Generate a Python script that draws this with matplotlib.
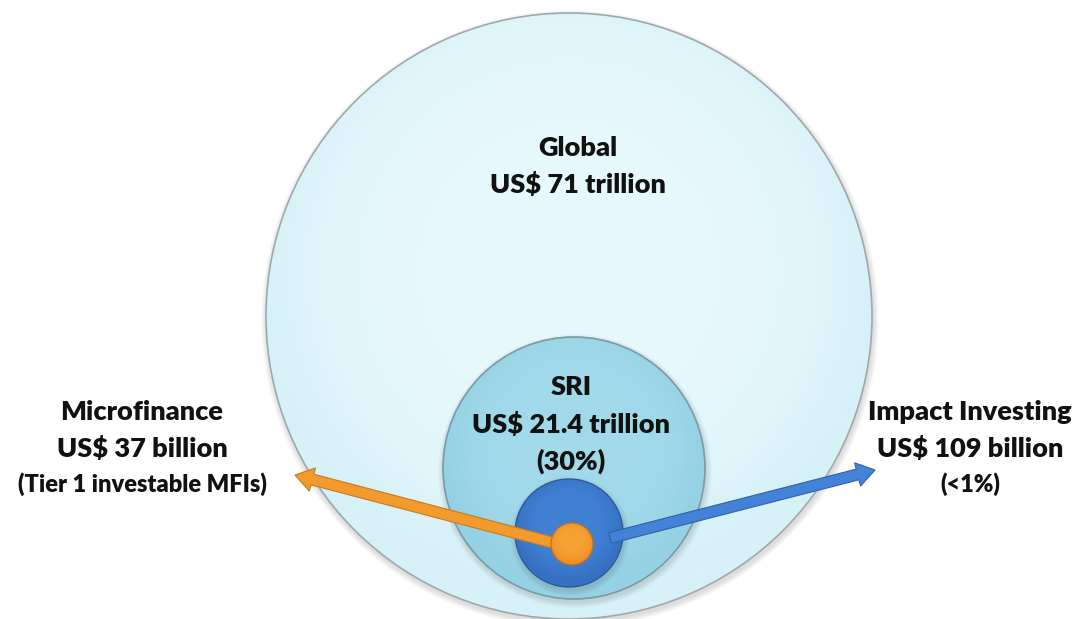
import numpy as np
import matplotlib
matplotlib.use("Agg")
import matplotlib.pyplot as plt
from matplotlib.patches import Circle, FancyArrow

# ---- data ----
segments = ["Global", "SRI", "Impact Investing", "Microfinance"]
amounts = ["US$ 71 trillion", "US$ 21.4 trillion", "US$ 109 billion", "US$ 37 billion"]
notes = ["", "(30%)", "(<1%)", "(Tier 1 investable MFIs)"]

FONT = ["Lato", "DejaVu Sans"]

fig = plt.figure(figsize=(10.8, 6.19), dpi=100)
ax = fig.add_axes([0, 0, 1, 1])
ax.set_xlim(0, 1080)
ax.set_ylim(619, 0)
ax.set_aspect("equal")
ax.axis("off")


def radial_circle(ax, cx, cy, r, inner, outer, edge, lw=1.2, z=1, shadow=True):
    if shadow:
        for k, a in enumerate([0.05, 0.05, 0.05, 0.05]):
            ax.add_patch(Circle((cx + 1, cy + 3), r + 1 + k * 1.5, color="#555555",
                                alpha=a, lw=0, zorder=z - 0.5))
    c = Circle((cx, cy), r, facecolor=outer, edgecolor="none", zorder=z)
    ax.add_patch(c)
    n = 200
    yy, xx = np.mgrid[-1:1:n * 1j, -1:1:n * 1j]
    d = np.clip(np.sqrt(xx ** 2 + (yy + 0.15) ** 2), 0, 1)
    ci = np.array(matplotlib.colors.to_rgb(inner))
    co = np.array(matplotlib.colors.to_rgb(outer))
    t = d ** 4
    img = ci[None, None, :] * (1 - t[..., None]) + co[None, None, :] * t[..., None]
    im = ax.imshow(img, extent=(cx - r, cx + r, cy + r, cy - r), zorder=z + 0.1,
                   interpolation="bilinear")
    im.set_clip_path(c)
    ax.add_patch(Circle((cx, cy), r, facecolor="none", edgecolor=edge, lw=lw,
                        zorder=z + 0.2))


# Global
radial_circle(ax, 569, 316, 303, "#E6F9FD", "#D6F1F7", "#9FA9AD", lw=1.2, z=1)
# SRI
radial_circle(ax, 574, 468, 131, "#A2DAEA", "#94D1E3", "#7A9AA6", lw=1.2, z=3)
# Impact investing (blue)
radial_circle(ax, 569, 533, 54, "#4181D3", "#3670C3", "#2D5C9E", lw=1.0, z=5)

# arrows
ax.add_patch(FancyArrow(558, 544, 295 - 558, 475 - 544, width=11, head_width=24,
                        head_length=18, length_includes_head=True,
                        facecolor="#F39A2C", edgecolor="#C87A1E", lw=0.8, zorder=7))
ax.add_patch(FancyArrow(610, 538, 875 - 610, 470 - 538, width=11, head_width=24,
                        head_length=18, length_includes_head=True,
                        facecolor="#4382D6", edgecolor="#2F62A8", lw=0.8, zorder=7))
# Microfinance (orange dot)
radial_circle(ax, 572, 544, 21, "#F5A133", "#EE9022", "#C07018", lw=0.8, z=8,
              shadow=False)

tk = dict(ha="center", va="center", family=FONT, fontweight="heavy", color="#111111",
          zorder=10)
big = 19.5
small = 17

# Global
ax.text(578, 148, segments[0], fontsize=big, **tk)
ax.text(578, 185, amounts[0], fontsize=big, **tk)
# SRI
ax.text(571, 387, segments[1], fontsize=big, **tk)
ax.text(571, 424, amounts[1], fontsize=big, **tk)
ax.text(571, 461, notes[1], fontsize=big, **tk)
# Impact Investing
ax.text(970, 412, segments[2], fontsize=big, **tk)
ax.text(970, 448, amounts[2], fontsize=big, **tk)
ax.text(970, 484, notes[2], fontsize=small, **tk)
# Microfinance
ax.text(142, 412, segments[3], fontsize=big, **tk)
ax.text(142, 448, amounts[3], fontsize=big, **tk)
ax.text(142, 484, notes[3], fontsize=small, **tk)

fig.savefig("out.png", dpi=100, facecolor="white")
